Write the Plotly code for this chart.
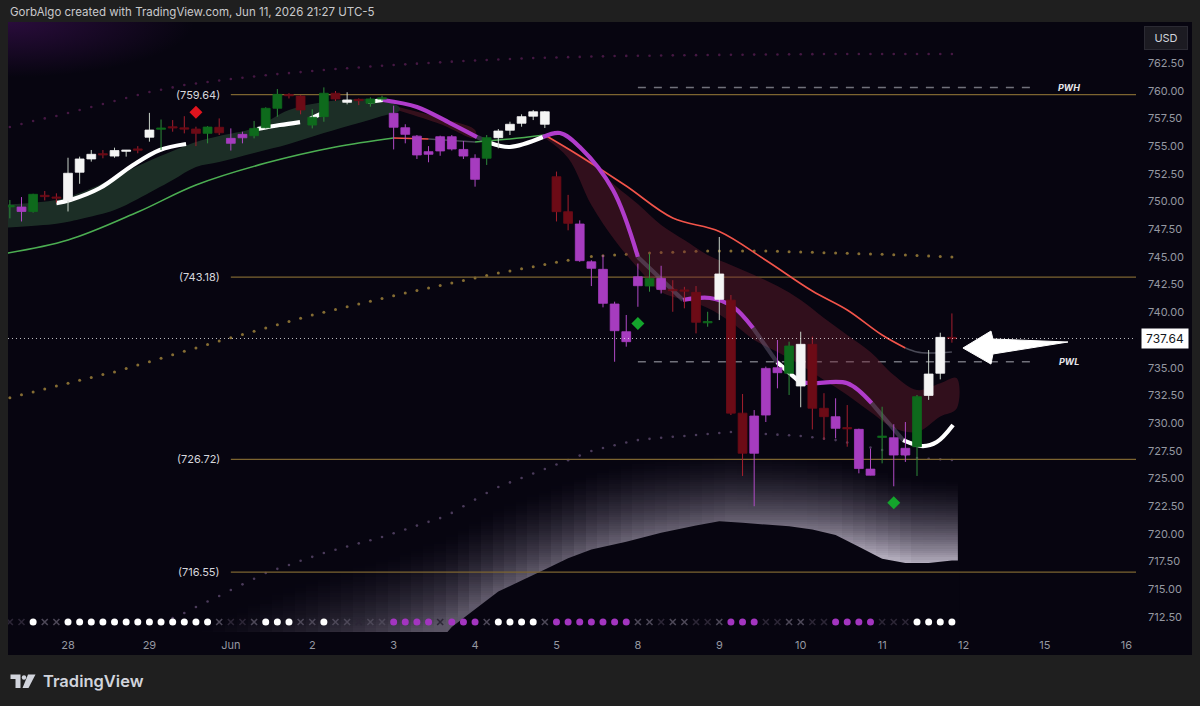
import numpy as np
import plotly.graph_objects as go

# ------------------------------------------------------------------ data
bars = list(range(-5, 77))
day_ticks = [0, 7, 14, 21, 28, 35, 42, 49, 56, 63, 70, 77, 84, 91]
day_labels = ["28", "29", "Jun", "2", "3", "4", "5", "8", "9", "10", "11", "12", "15", "16"]
price_ticks = [712.5, 715.0, 717.5, 720.0, 722.5, 725.0, 727.5, 730.0, 732.5, 735.0, 737.5,
               740.0, 742.5, 745.0, 747.5, 750.0, 752.5, 755.0, 757.5, 760.0, 762.5]

opens = [749.55, 749.50, 749.10, 750.55, 750.40, 750.10, 752.64, 753.84, 754.30, 754.10,
         754.55, 754.72, 755.80, 756.55, 756.72, 756.62, 756.54, 756.15, 756.70, 755.70,
         756.06, 755.94, 756.66, 758.41, 759.65, 759.52, 756.90, 757.66, 759.77, 758.95,
         759.20, 758.86, 759.28, 757.96, 756.66, 755.90, 754.50, 754.56, 755.85, 754.70,
         753.90, 753.90, 755.76, 756.43, 757.06, 757.70, 756.97, 752.24, 749.08, 747.97,
         744.56, 743.88, 740.75, 738.25, 743.21, 742.37, 743.06, 742.05, 742.00, 741.80,
         739.08, 741.17, 741.10, 730.90, 730.64, 730.73, 735.00, 734.50, 733.35, 737.11,
         731.34, 730.58, 729.58, 729.44, 725.30, 728.74, 728.68, 727.73, 727.87, 732.50,
         734.50, 737.72]
highs = [750.14, 750.40, 750.70, 750.95, 750.74, 753.95, 754.05, 754.65, 754.65, 754.86,
         754.65, 755.00, 758.00, 757.40, 757.35, 757.70, 756.75, 756.80, 757.50, 756.60,
         756.30, 757.27, 758.50, 760.15, 759.77, 759.60, 758.32, 760.30, 759.97, 759.86,
         759.30, 759.40, 759.55, 758.65, 756.97, 756.00, 755.00, 755.94, 756.00, 755.46,
         754.26, 756.00, 756.54, 757.20, 757.87, 758.26, 758.17, 752.70, 750.60, 748.30,
         744.70, 745.17, 740.96, 739.76, 744.40, 745.30, 744.20, 742.90, 742.30, 742.37,
         740.05, 746.80, 741.56, 732.63, 731.18, 735.10, 737.50, 737.35, 738.25, 737.80,
         732.70, 732.24, 731.63, 729.50, 727.70, 731.48, 729.90, 730.10, 732.54, 736.60,
         738.16, 739.90]
lows = [748.48, 748.20, 749.00, 750.10, 749.90, 749.10, 751.60, 753.60, 753.90, 753.95,
        754.05, 754.35, 755.40, 754.65, 756.30, 756.15, 755.00, 755.25, 756.00, 754.60,
        755.25, 755.70, 756.60, 757.65, 759.30, 757.87, 756.60, 757.20, 759.07, 758.77,
        758.70, 758.56, 759.07, 754.70, 755.25, 753.84, 753.54, 754.13, 754.60, 753.84,
        751.34, 753.30, 754.80, 756.00, 756.75, 757.35, 756.63, 748.20, 747.40, 744.56,
        742.37, 740.45, 735.54, 736.90, 740.50, 741.86, 741.70, 740.05, 740.36, 738.10,
        738.70, 739.30, 730.73, 725.23, 722.50, 730.10, 733.14, 732.54, 731.43, 729.43,
        728.50, 728.63, 727.87, 725.47, 725.30, 726.37, 724.30, 726.50, 725.23, 732.10,
        733.95, 737.26]
closes = [749.60, 749.10, 750.65, 750.45, 750.30, 752.55, 753.84, 754.26, 754.22, 754.60,
          754.62, 754.66, 756.45, 756.60, 756.66, 756.56, 756.15, 756.72, 756.20, 755.25,
          755.75, 756.60, 758.41, 759.67, 759.55, 758.26, 757.60, 759.77, 759.25, 759.16,
          759.12, 759.25, 759.32, 756.70, 756.06, 754.20, 754.26, 755.85, 754.74, 754.10,
          752.00, 755.76, 756.36, 756.97, 757.66, 758.10, 758.10, 749.08, 748.03, 744.66,
          743.97, 740.81, 738.34, 737.35, 742.40, 743.06, 742.07, 741.97, 741.92, 739.10,
          739.14, 743.46, 730.90, 727.28, 727.28, 734.94, 734.55, 736.96, 737.11, 731.34,
          730.58, 729.53, 729.50, 725.90, 725.85, 728.80, 727.12, 727.12, 732.39, 734.43,
          737.74, 737.64]
candle_class = ["G", "M", "G", "R", "R", "W", "W", "W", "R", "W",
                "W", "R", "W", "G", "R", "R", "R", "G", "R", "M",
                "M", "G", "G", "G", "R", "R", "G", "G", "R", "W",
                "R", "G", "G", "M", "M", "M", "M", "M", "M", "M",
                "M", "G", "W", "W", "W", "W", "W", "R", "R", "M",
                "M", "M", "M", "M", "M", "G", "M", "R", "R", "R",
                "G", "W", "R", "R", "M", "M", "M", "G", "W", "R",
                "R", "M", "R", "M", "M", "G", "M", "M", "G", "W",
                "W", "R"]

# signal row at the pane bottom (one code per bar)
signal_codes = (["xd", "xd", "W", "x", "x"] + ["W"] * 13 +
                ["x", "xd", "xd", "x", "W", "W", "W", "x", "x", "W", "x", "x", "xd", "x", "x",
                 "M", "M", "M", "M", "xd", "M", "M", "M", "x", "W", "W", "W", "W", "x"] +
                ["M"] * 7 +
                ["x", "x", "xd", "x", "x", "xd", "xd", "x", "M", "M", "M", "xd", "xd", "x", "x",
                 "xd", "xd", "M", "M", "M", "M", "xd", "xd", "xd", "W", "W", "W", "W"])

# dotted band lines (one value per bar)
gold_dots = [732.30, 732.56, 732.82, 733.08, 733.34, 733.60, 733.86, 734.12, 734.38, 734.62,
             734.93, 735.24, 735.55, 735.86, 736.17, 736.48, 736.79, 737.10, 737.41, 737.70,
             738.00, 738.29, 738.59, 738.88, 739.18, 739.47, 739.76, 740.01, 740.26, 740.51,
             740.76, 741.00, 741.25, 741.50, 741.74, 741.97, 742.19, 742.42, 742.64, 742.87,
             743.09, 743.32, 743.55, 743.74, 743.93, 744.12, 744.32, 744.51, 744.70, 744.87,
             745.04, 745.11, 745.17, 745.23, 745.29, 745.35, 745.39, 745.43, 745.46, 745.50,
             745.53, 745.53, 745.53, 745.53, 745.53, 745.53, 745.50, 745.47, 745.44, 745.41,
             745.38, 745.35, 745.32, 745.29, 745.26, 745.23, 745.20, 745.17, 745.12, 745.08,
             745.03, 744.99]
upper_dots = [756.72, 757.00, 757.27, 757.50, 757.72, 757.99, 758.26, 758.53, 758.80, 759.07,
              759.34, 759.61, 759.88, 760.09, 760.30, 760.51, 760.65, 760.79, 760.92, 761.06,
              761.17, 761.28, 761.39, 761.50, 761.59, 761.68, 761.78, 761.87, 761.96, 762.03,
              762.10, 762.18, 762.25, 762.32, 762.38, 762.44, 762.50, 762.56, 762.62, 762.68,
              762.73, 762.77, 762.82, 762.86, 762.91, 762.95, 762.98, 763.00, 763.03, 763.05,
              763.08, 763.10, 763.13, 763.14, 763.15, 763.16, 763.17, 763.19, 763.20, 763.21,
              763.22, 763.23, 763.24, 763.25, 763.26, 763.27, 763.27, 763.28, 763.29, 763.30,
              763.31, 763.31, 763.31, 763.31, 763.31, 763.31, 763.31, 763.31, 763.31, 763.31,
              763.31, 763.31]
lower_bars = list(range(9, 77))
lower_dots = [712.40, 712.86, 713.40, 713.90, 714.40, 714.94, 715.45, 715.95, 716.47, 716.85,
              717.20, 717.58, 717.93, 718.28, 718.57, 718.86, 719.15, 719.43, 719.72, 720.06,
              720.40, 720.75, 721.09, 721.43, 721.90, 722.50, 723.10, 723.70, 724.24, 724.65,
              725.05, 725.45, 725.86, 726.26, 726.66, 727.07, 727.48, 727.75, 728.00, 728.25,
              728.47, 728.58, 728.68, 728.77, 728.84, 728.93, 729.02, 729.11, 729.20, 729.14,
              729.08, 729.02, 728.96, 728.90, 728.84, 728.72, 728.60, 728.47, 728.25, 728.02,
              727.80, 727.57, 727.33, 727.09, 726.85, 726.79, 726.73, 726.67]

# lower edge of the fog (dark area beneath it)
fog_base_bars = [32.5, 33, 35, 37, 39, 41, 43, 45, 48, 51, 54, 56, 58, 60, 62, 64, 66, 68, 70, 72, 74, 76, 76.5]
fog_base_vals = [711.0, 711.6, 713.2, 714.8, 715.8, 716.8, 717.8, 718.6, 719.3, 720.1, 720.75,
                 721.15, 721.0, 720.85, 720.7, 720.4, 719.9, 718.85, 717.75, 717.37, 717.37, 717.6, 717.6]

# cloud (two averages)
green_cloud_bars = [-6, -1, 1, 4, 6, 9, 11, 13, 16, 19, 22, 25, 27, 28.5]
green_cloud_top = [749.70, 750.14, 750.77, 752.12, 753.20, 754.56, 755.37, 755.91, 756.63, 758.26,
                   758.98, 759.25, 759.16, 758.50]
green_cloud_bot = [747.60, 748.00, 748.40, 749.23, 750.23, 751.94, 753.11, 753.56, 754.38, 755.19,
                   756.18, 757.08, 757.72, 758.20]
thin_red_bars = [28.5, 32, 35]
thin_red_top = [758.50, 757.54, 756.45]
thin_red_bot = [758.20, 757.00, 755.73]
red_cloud_bars = [41, 43, 45, 47, 49, 51, 53, 55, 57, 59, 61, 63, 65, 67, 69, 71, 73, 75, 76.4]
red_cloud_top = [756.00, 754.83, 753.56, 751.49, 749.77, 747.88, 746.52, 745.17, 744.27, 743.37,
                 742.37, 741.11, 739.49, 737.95, 736.42, 734.34, 732.99, 733.60, 734.07]
red_cloud_bot = [755.73, 753.93, 749.68, 746.52, 744.00, 741.83, 741.11, 740.39, 739.12, 737.50,
                 736.42, 735.24, 733.89, 732.54, 731.00, 729.56, 729.20, 730.60, 731.30]

# slow average line, segment colour code per point (segment to the next point)
slow_bars = [-6, 0, 6, 11, 17, 23, 28, 31, 35, 38, 41, 44, 48, 52, 56, 60, 64, 67, 70, 72, 73, 74, 76]
slow_vals = [745.20, 746.52, 749.05, 751.49, 753.47, 754.92, 755.73, 755.64, 755.37, 755.64,
             756.00, 754.11, 751.40, 748.51, 747.30, 744.70, 741.92, 740.21, 737.95, 736.78,
             736.42, 736.33, 736.42]
slow_seg = ["G", "G", "G", "G", "G", "G", "R", "F", "G", "G", "R", "R", "R", "R", "R", "R",
            "R", "R", "R", "F", "F", "F", "-"]

# trend line
trend_bars = [-1.0, 0.2, 2.75, 5.6, 7.9, 10.15, 16.3, 18.2, 19.95, 20.8, 22.1, 25.8, 27.08, 30.0,
              32.85, 35.17, 36.3, 38.0, 40.84, 42.3, 44.0, 46.86, 49.0, 52.88, 55.2, 57.2, 58.9,
              60.96, 62.94, 64.0, 67.0, 69.1, 71.8, 73.5, 74.7, 76.1]
trend_vals = [749.86, 750.14, 751.22, 753.30, 754.65, 755.19, 756.54, 756.90, 757.17, 757.45,
              758.08, 758.98, 759.16, 758.53, 757.08, 755.82, 755.28, 754.92, 755.82, 756.18,
              754.92, 751.04, 745.00, 741.11, 741.29, 740.48, 738.58, 735.50, 733.70, 733.60,
              733.60, 731.80, 728.47, 727.93, 728.29, 729.83]
trend_seg = ["W", "W", "W", "W", "W", "N", "W", "W", "N", "W", "N", "W", "M", "M", "M", "F",
             "W", "W", "M", "M", "M", "M", "F", "M", "M", "M", "F", "W", "M", "M", "M", "F",
             "W", "W", "W", "-"]

# signal diamonds
diamond_bars = [11, 49, 71]
diamond_vals = [758.05, 739.00, 722.82]
diamond_cls = ["R", "G", "G"]

levels = [759.64, 743.18, 726.72, 716.55]
level_labels = ["(759.64)", "(743.18)", "(726.72)", "(716.55)"]
level_start = 14
pwh, pwl = 760.30, 735.54
pw_start, pw_end = 49, 83
last_price = 737.64

# ------------------------------------------------------------------ style
X_MIN, X_MAX = -5.16, 91.83
Y_MIN, Y_MAX = 711.15, 766.2
BG = "#070510"
OUTER = "#1f1f1f"
HALF_W = 0.38
MIN_BODY = 0.12
SIGNAL_ROW = 712.05

fig = go.Figure()

# fog gradient (per bar column)
rows = np.arange(710.0, 731.0, 0.2)
z = []
n = len(lower_bars)
for p in rows:
    r = []
    for k, b in enumerate(lower_bars):
        top = lower_dots[k] - 1.6
        d = top - p
        if d <= 0:
            r.append(None)
        else:
            s = 0.22 + 0.62 * (k / (n - 1)) ** 1.1
            r.append(s * min(1.0, d / 8.0) ** 1.5)
    z.append(r)
fig.add_trace(go.Heatmap(x=lower_bars, y=rows, z=z, zmin=0, zmax=1, showscale=False,
                         colorscale=[[0, "rgba(190,175,205,0)"], [1, "rgba(236,230,244,1)"]],
                         hoverinfo="skip", zsmooth=False))

# top-left glow
fig.add_trace(go.Scatter(x=[X_MIN - 16, X_MIN + 16, X_MIN + 16, X_MIN - 16, X_MIN - 16],
                         y=[Y_MAX - 5, Y_MAX - 5, Y_MAX + 5, Y_MAX + 5, Y_MAX - 5],
                         fill="toself", mode="none", hoverinfo="skip",
                         fillgradient=dict(type="radial",
                                           colorscale=[[0, "rgba(70,18,95,0.55)"],
                                                       [1, "rgba(70,18,95,0)"]])))

# dark area beneath the fog
fig.add_trace(go.Scatter(x=fog_base_bars + [fog_base_bars[-1] + 0.15, fog_base_bars[-1] + 0.15, fog_base_bars[0]],
                         y=fog_base_vals + [fog_base_vals[-1], 700, 700], fill="toself", fillcolor=BG,
                         mode="none", hoverinfo="skip"))

# dotted band lines
fig.add_trace(go.Scatter(x=bars, y=upper_dots, mode="markers", hoverinfo="skip",
                         marker=dict(size=2.6, color="rgba(120,40,110,0.55)")))
fig.add_trace(go.Scatter(x=bars, y=gold_dots, mode="markers", hoverinfo="skip",
                         marker=dict(size=3, color="rgba(165,135,60,0.8)")))
fig.add_trace(go.Scatter(x=lower_bars, y=lower_dots, mode="markers", hoverinfo="skip",
                         marker=dict(size=2.6, color="rgba(120,95,140,0.6)")))

# level lines
for v in levels:
    fig.add_trace(go.Scatter(x=[level_start, X_MAX + 1], y=[v, v], mode="lines", hoverinfo="skip",
                             line=dict(color="#7d6530", width=1.2)))
for v in (pwh, pwl):
    fig.add_trace(go.Scatter(x=[pw_start, pw_end], y=[v, v], mode="lines", hoverinfo="skip",
                             line=dict(color="rgba(140,140,150,0.8)", width=1.5, dash="8px,8px")))


# clouds
def band(xs, top, bot, color):
    fig.add_trace(go.Scatter(x=list(xs) + list(xs)[::-1], y=list(top) + list(bot)[::-1],
                             fill="toself", fillcolor=color, mode="lines", hoverinfo="skip",
                             line=dict(width=0, shape="spline")))


band(green_cloud_bars, green_cloud_top, green_cloud_bot, "rgba(42,72,52,0.62)")
band(thin_red_bars, thin_red_top, thin_red_bot, "rgba(110,30,45,0.45)")
band(red_cloud_bars, red_cloud_top, red_cloud_bot, "rgba(112,30,48,0.40)")


def segmented(xs, ys, seg, colors, width):
    out = {}
    for k in range(len(xs) - 1):
        c = seg[k]
        if c not in colors:
            continue
        px, py = out.setdefault(c, ([], []))
        if px and px[-1] == xs[k]:
            px.append(xs[k + 1]); py.append(ys[k + 1])
        else:
            if px:
                px.append(None); py.append(None)
            px += [xs[k], xs[k + 1]]; py += [ys[k], ys[k + 1]]
    for c, (px, py) in out.items():
        fig.add_trace(go.Scatter(x=px, y=py, mode="lines", hoverinfo="skip",
                                 line=dict(color=colors[c], width=width, shape="spline")))


segmented(slow_bars, slow_vals, slow_seg,
          {"G": "#4cae52", "R": "#f2544a", "F": "rgba(120,120,135,0.6)"}, 1.6)
segmented(trend_bars, trend_vals, trend_seg,
          {"W": "#ffffff", "M": "#b03ccb", "F": "rgba(140,130,160,0.35)"}, 4.2)

# candles
candle_style = {
    "R": ("#6c0b16", "#a41f2e"),
    "G": ("#0e6a1c", "#2e8b3a"),
    "M": ("#a63cbf", "#b04ac6"),
    "W": ("#f4f4f4", "#c9d3c9"),
}
for code, (fillc, linec) in candle_style.items():
    wx, wy, bx, by = [], [], [], []
    for b, o, h, l, c, k in zip(bars, opens, highs, lows, closes, candle_class):
        if k != code:
            continue
        wx += [b, b, None]
        wy += [l, h, None]
        lo, hi = min(o, c), max(o, c)
        if hi - lo < MIN_BODY:
            m = (hi + lo) / 2
            lo, hi = m - MIN_BODY / 2, m + MIN_BODY / 2
        bx += [b - HALF_W, b + HALF_W, b + HALF_W, b - HALF_W, b - HALF_W, None]
        by += [lo, lo, hi, hi, lo, None]
    fig.add_trace(go.Scatter(x=wx, y=wy, mode="lines", hoverinfo="skip",
                             line=dict(color=linec, width=1)))
    fig.add_trace(go.Scatter(x=bx, y=by, mode="lines", fill="toself", fillcolor=fillc,
                             hoverinfo="skip", line=dict(color=fillc, width=0.8)))

# diamonds
dcol = {"R": "#e0141e", "G": "#14a52c"}
fig.add_trace(go.Scatter(x=diamond_bars, y=diamond_vals, mode="markers", hoverinfo="skip",
                         marker=dict(symbol="diamond", size=10,
                                     color=[dcol[c] for c in diamond_cls])))

# signal row
sig_style = {"W": ("circle", "#ffffff", 7), "M": ("circle", "#a335c0", 7),
             "x": ("x-thin", "#4d4858", 6), "xd": ("x-thin", "#2c2636", 6)}
for code, (sym, col, sz) in sig_style.items():
    xs = [b for b, c in zip(bars, signal_codes) if c == code]
    marker = dict(symbol=sym, size=sz, color=col)
    if sym.startswith("x"):
        marker["line"] = dict(color=col, width=1.6)
    fig.add_trace(go.Scatter(x=xs, y=[SIGNAL_ROW] * len(xs), mode="markers",
                             hoverinfo="skip", marker=marker))


# ------------------------------------------------------------------ layout
def px_x(x):
    return (x - 8) / 1128.0


def px_y(y):
    return (632 - y) / 610.0


shapes = [
    dict(type="rect", xref="paper", yref="paper", x0=0, x1=px_x(1192), y0=px_y(655), y1=1,
         fillcolor=BG, line=dict(width=0), layer="below"),
    dict(type="line", xref="paper", yref="y", x0=0, x1=1, y0=last_price, y1=last_price,
         line=dict(color="rgba(255,255,255,0.75)", width=1, dash="1px,3px")),
]
# arrow pointing at the last price
lb = bars[-1]
arrow = [(0.95, -0.86), (3.36, 0.67), (3.53, -0.05), (9.98, -0.32), (3.53, -1.40), (3.36, -2.31)]
path = "M " + " L ".join(f"{lb + dx},{last_price + dy}" for dx, dy in arrow) + " Z"
shapes.append(dict(type="path", xref="x", yref="y", path=path, fillcolor="#ffffff",
                   line=dict(color="#ffffff", width=1)))


# TradingView logo
def pth(pts):
    return "M " + " L ".join(f"{px_x(a)},{px_y(b)}" for a, b in pts) + " Z"


logo_col = "#d1d4dc"
shapes.append(dict(type="path", xref="paper", yref="paper",
                   path=pth([(10.5, 674.5), (20.5, 674.5), (20.5, 688), (15.5, 688), (15.5, 679), (10.5, 679)]),
                   fillcolor=logo_col, line=dict(width=0)))
shapes.append(dict(type="circle", xref="paper", yref="paper", x0=px_x(21.8), x1=px_x(26.2),
                   y0=px_y(679.7), y1=px_y(675.3), fillcolor=logo_col, line=dict(width=0)))
shapes.append(dict(type="path", xref="paper", yref="paper",
                   path=pth([(28, 674.5), (35.5, 674.5), (28.5, 688), (22.5, 688)]),
                   fillcolor=logo_col, line=dict(width=0)))

annotations = [
    dict(xref="paper", yref="paper", x=0, y=px_y(12), xanchor="left", yanchor="middle",
         text="GorbAlgo created with TradingView.com, Jun 11, 2026 21:27 UTC-5", showarrow=False,
         font=dict(family="Inter", size=11.5, color="#c9c9cc")),
    dict(xref="paper", yref="paper", x=px_x(41), y=px_y(681), xanchor="left", yanchor="middle",
         text="TradingView", showarrow=False,
         font=dict(family="Inter", size=16.5, color=logo_col, weight=600)),
    dict(xref="paper", yref="paper", x=px_x(1166), y=px_y(37.5), xanchor="center", yanchor="middle",
         text="USD", showarrow=False, bgcolor="#1c1b22", bordercolor="#2b2a33", borderwidth=1,
         borderpad=4, width=34, font=dict(family="Inter", size=11, color="#d1d4dc")),
    dict(xref="paper", yref="y", x=px_x(1165), y=last_price, xanchor="center", yanchor="middle",
         text="737.64", showarrow=False, bgcolor="#ffffff", borderpad=2, width=42,
         font=dict(family="Inter", size=12, color="#131722")),
]
for v, t in zip(levels, level_labels):
    annotations.append(dict(x=level_start - 0.8, y=v, xref="x", yref="y", xanchor="right",
                            yanchor="middle", text=t, showarrow=False,
                            font=dict(family="Inter", size=11, color="#d6d6dc")))
for v, t in ((pwh, "PWH"), (pwl, "PWL")):
    annotations.append(dict(x=86.1, y=v, xref="x", yref="y", xanchor="center", yanchor="middle",
                            text=f"<b><i>{t}</i></b>", showarrow=False,
                            font=dict(family="Inter", size=9, color="#e6e6ea")))

fig.update_layout(
    width=1200, height=706,
    margin=dict(l=8, r=64, t=22, b=74, pad=0),
    paper_bgcolor=OUTER, plot_bgcolor=BG,
    showlegend=False, hovermode=False,
    shapes=shapes, annotations=annotations,
    xaxis=dict(range=[X_MIN, X_MAX], tickvals=day_ticks, ticktext=day_labels,
               showgrid=False, zeroline=False, showline=False, ticks="",
               ticklabelstandoff=5, tickfont=dict(family="Inter", size=11, color="#9598a1"),
               fixedrange=True),
    yaxis=dict(range=[Y_MIN, Y_MAX], side="right", tickvals=price_ticks,
               ticktext=[f"{v:.2f}" for v in price_ticks],
               showgrid=False, zeroline=False, showline=False, ticks="",
               ticklabelstandoff=11, tickfont=dict(family="Inter", size=11, color="#9598a1"),
               fixedrange=True),
)

fig.write_html("out.html", config={"displayModeBar": False},
               post_script="document.body.style.margin='0';document.body.style.overflow='hidden';")
